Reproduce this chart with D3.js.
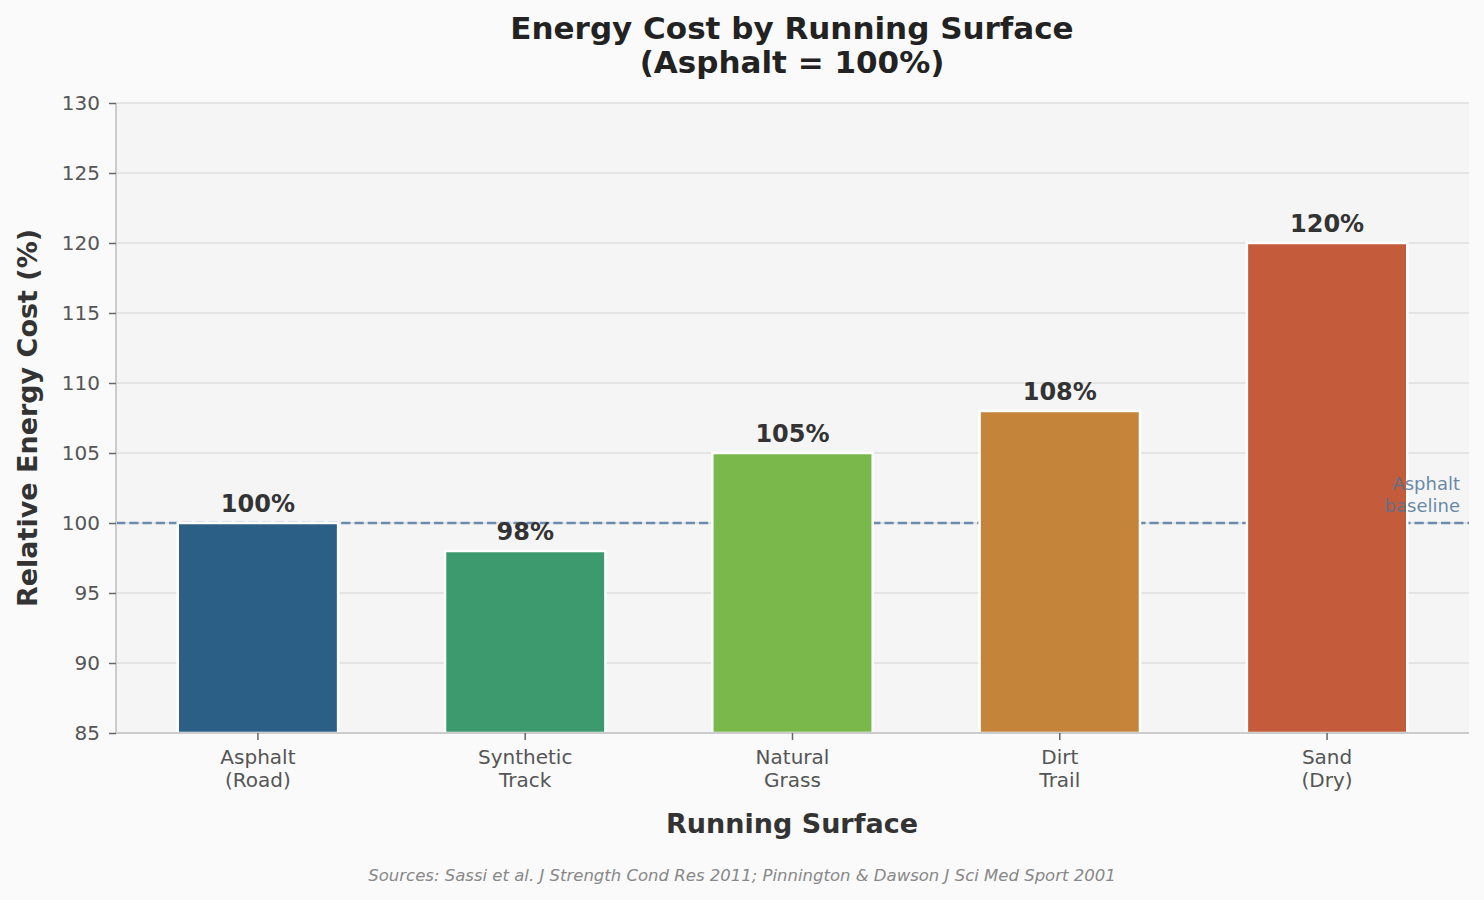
<!DOCTYPE html>
<html>
<head>
<meta charset="utf-8">
<script src="https://cdn.jsdelivr.net/npm/d3@7"></script>
<style>
  body { margin: 0; background: #fafafa; }
  svg { display: block; font-family: "DejaVu Sans", sans-serif; }
</style>
</head>
<body>
<div id="chart"></div>
<script>
const surfaces = ["Asphalt\n(Road)", "Synthetic\nTrack", "Natural\nGrass", "Dirt\nTrail", "Sand\n(Dry)"]
const energyCost = [100, 98, 105, 108, 120]
const barColors = ["#2c5f85", "#3d9a6e", "#7ab84b", "#c4853b", "#c45c3b"]
const yTicks = [85, 90, 95, 100, 105, 110, 115, 120, 125, 130]
const baseline = 100

const width = 1484
const height = 900
const plotLeft = 116, plotRight = 1469, plotTop = 103, plotBottom = 733

const svg = d3.select("#chart")
    .append("svg")
    .attr("width", width)
    .attr("height", height)

svg.append("rect")
    .attr("width", width)
    .attr("height", height)
    .attr("fill", "#fafafa")

const x = d3.scaleBand()
    .domain(surfaces)
    .range([plotLeft, plotRight])
    .paddingInner(0.4)
    .paddingOuter(0.231)

const y = d3.scaleLinear()
    .domain([85, 130])
    .range([plotBottom, plotTop])

// Plot background
svg.append("rect")
    .attr("x", plotLeft)
    .attr("y", plotTop)
    .attr("width", plotRight - plotLeft)
    .attr("height", plotBottom - plotTop)
    .attr("fill", "#f5f5f5")

// Grid
svg.append("g")
    .selectAll("line")
    .data(yTicks)
    .enter()
    .append("line")
    .attr("x1", plotLeft)
    .attr("x2", plotRight)
    .attr("y1", d => y(d))
    .attr("y2", d => y(d))
    .attr("stroke", "#dedede")
    .attr("stroke-width", 1.5)

// Baseline (under the bars)
svg.append("line")
    .attr("x1", plotLeft)
    .attr("x2", plotRight)
    .attr("y1", y(baseline))
    .attr("y2", y(baseline))
    .attr("stroke", "#6b8cae")
    .attr("stroke-width", 2.5)
    .attr("stroke-dasharray", "9.25,4")

// Bars
svg.append("g")
    .selectAll("rect")
    .data(energyCost)
    .enter()
    .append("rect")
    .attr("x", (d, i) => x(surfaces[i]))
    .attr("y", d => y(d))
    .attr("width", x.bandwidth())
    .attr("height", d => plotBottom - y(d))
    .attr("fill", (d, i) => barColors[i])
    .attr("stroke", "#ffffff")
    .attr("stroke-width", 2.5)

// Baseline label (over the bars)
const baseLabel = svg.append("text")
    .attr("x", 1460)
    .attr("y", y(baseline) - 33)
    .attr("text-anchor", "end")
    .attr("fill", "#4f7396")
    .attr("fill-opacity", 0.85)
    .attr("font-size", 18)
baseLabel.append("tspan").attr("x", 1460).attr("dy", 0).text("Asphalt")
baseLabel.append("tspan").attr("x", 1460).attr("dy", 22).text("baseline")

// Value labels
svg.append("g")
    .selectAll("text")
    .data(energyCost)
    .enter()
    .append("text")
    .attr("x", (d, i) => x(surfaces[i]) + x.bandwidth() / 2)
    .attr("y", d => y(d) - 11)
    .attr("text-anchor", "middle")
    .attr("font-size", 24)
    .attr("font-weight", "bold")
    .attr("fill", "#333333")
    .text(d => d + "%")

// Spines
svg.append("line")
    .attr("x1", plotLeft).attr("x2", plotLeft)
    .attr("y1", plotTop).attr("y2", plotBottom)
    .attr("stroke", "#cccccc").attr("stroke-width", 2)
svg.append("line")
    .attr("x1", plotLeft).attr("x2", plotRight)
    .attr("y1", plotBottom).attr("y2", plotBottom)
    .attr("stroke", "#cccccc").attr("stroke-width", 2)

// Y axis
const yAxis = svg.append("g")
    .attr("transform", `translate(${plotLeft}, 0)`)
    .call(d3.axisLeft(y).tickValues(yTicks).tickSize(7).tickPadding(9))
yAxis.select(".domain").remove()
yAxis.selectAll(".tick line").attr("stroke", "#666666").attr("stroke-width", 1.5)
yAxis.selectAll(".tick text")
    .attr("font-size", 20)
    .attr("fill", "#555555")
    .attr("font-family", "DejaVu Sans, sans-serif")

// X axis
const xAxis = svg.append("g")
    .attr("transform", `translate(0, ${plotBottom})`)
    .call(d3.axisBottom(x).tickSize(7).tickPadding(8).tickFormat(""))
xAxis.select(".domain").remove()
xAxis.selectAll(".tick line").attr("stroke", "#666666").attr("stroke-width", 1.5)
xAxis.selectAll(".tick text").remove()
xAxis.selectAll(".tick")
    .append("text")
    .attr("text-anchor", "middle")
    .attr("fill", "#555555")
    .attr("font-size", 20)
    .attr("font-family", "DejaVu Sans, sans-serif")
    .each(function (d) {
        const lines = d.split("\n")
        lines.forEach((line, i) => {
            d3.select(this).append("tspan")
                .attr("x", 0)
                .attr("y", 31 + i * 23)
                .text(line)
        })
    })

// Title
const title = svg.append("text")
    .attr("text-anchor", "middle")
    .attr("font-size", 31)
    .attr("font-weight", "bold")
    .attr("fill", "#222222")
title.append("tspan").attr("x", 792).attr("y", 39).text("Energy Cost by Running Surface")
title.append("tspan").attr("x", 792).attr("y", 73).text("(Asphalt = 100%)")

// Axis labels
svg.append("text")
    .attr("x", 792)
    .attr("y", 833)
    .attr("text-anchor", "middle")
    .attr("font-size", 27)
    .attr("font-weight", "bold")
    .attr("fill", "#333333")
    .text("Running Surface")

svg.append("text")
    .attr("transform", `translate(37, ${(plotTop + plotBottom) / 2}) rotate(-90)`)
    .attr("text-anchor", "middle")
    .attr("font-size", 27)
    .attr("font-weight", "bold")
    .attr("fill", "#333333")
    .text("Relative Energy Cost (%)")

// Source
svg.append("text")
    .attr("x", 742)
    .attr("y", 881)
    .attr("text-anchor", "middle")
    .attr("font-size", 16.5)
    .attr("font-style", "italic")
    .attr("fill", "#888888")
    .text("Sources: Sassi et al. J Strength Cond Res 2011; Pinnington & Dawson J Sci Med Sport 2001")
</script>
</body>
</html>
